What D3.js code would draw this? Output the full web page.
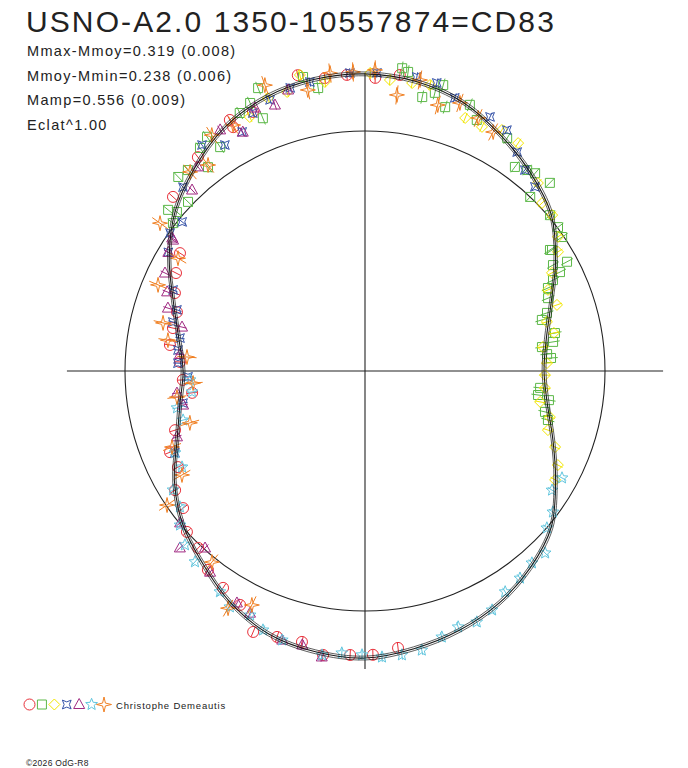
<!DOCTYPE html>
<html><head><meta charset="utf-8">
<script src="https://cdn.jsdelivr.net/npm/d3@7"></script>
<style>
body{margin:0;background:#fff}
svg{display:block}
text{font-family:"Liberation Sans",Arial,sans-serif}
</style>
</head><body>
<svg id="c" width="688" height="768"></svg>
<script>
// ---------- texts ----------
const titleText = "USNO-A2.0 1350-10557874=CD83";
const statLines = ["Mmax-Mmoy=0.319 (0.008)", "Mmoy-Mmin=0.238 (0.006)", "Mamp=0.556 (0.009)", "Eclat^1.00"];
const observerName = "Christophe Demeautis";
const copyrightText = "©2026 OdG-R8";

// ---------- fitted light curve (phase in degrees, relative flux; 1 = mean) ----------
const fitPhase = [0,10,20,30,40,50,60,70,80,90,100,110,120,130,140,150,160,170,180,190,200,210,220,230,240,250,260,270,280,290,300,310,320,330,340,350];
const fitFlux  = [1.238,1.225,1.192,1.133,1.075,1.013,0.917,0.825,0.767,0.746,0.771,0.833,0.917,1.013,1.071,1.117,1.150,1.175,1.196,1.188,1.167,1.117,1.050,0.992,0.917,0.833,0.783,0.758,0.788,0.850,0.942,1.033,1.104,1.171,1.213,1.233];
const fitSigma = 0.008;
const meanFlux = 1.0;
const axisExtent = 1.242;

// ---------- observations [phase deg, relative flux] ----------
const obsCircle = [[173.2,1.162],[178.4,1.183],[183.0,1.185],[188.4,1.196],[193.1,1.159],[198.3,1.167],[203.2,1.183],[208.1,1.105],[213.2,1.080],[218.3,1.056],[223.3,1.013],[227.9,1.000],[233.0,0.949],[237.9,0.934],[242.8,0.876],[247.4,0.880],[252.7,0.829],[262.8,0.726],[267.2,0.760],[272.8,0.772],[277.6,0.820],[282.6,0.820],[287.4,0.821],[292.3,0.856],[297.4,0.887],[302.5,0.914],[312.2,1.080],[322.0,1.131],[331.7,1.188],[331.6,1.155],[336.6,1.176],[347.2,1.264],[352.2,1.232],[356.5,1.236],[2.0,1.222],[6.7,1.242]];
const obsSquare = [[339.3,1.260],[336.8,1.215],[334.1,1.195],[338.0,1.136],[326.0,1.177],[327.1,1.111],[323.5,1.156],[322.4,1.072],[318.6,1.116],[316.1,1.122],[313.7,1.020],[309.3,1.060],[310.2,1.026],[307.6,1.010],[348.1,1.252],[350.6,1.195],[7.0,1.271],[8.2,1.259],[11.8,1.166],[14.1,1.195],[15.3,1.235],[16.9,1.149],[21.5,1.192],[24.0,1.145],[31.4,1.137],[36.3,1.055],[38.9,1.076],[40.7,1.087],[44.5,1.099],[43.5,1.000],[49.9,1.008],[53.3,1.003],[55.8,0.993],[57.1,0.928],[56.8,0.921],[61.6,0.957],[63.1,0.911],[60.6,0.899],[64.2,0.870],[65.6,0.837],[68.3,0.821],[72.3,0.796],[73.9,0.767],[78.7,0.807],[81.2,0.793],[82.3,0.744],[84.7,0.762],[86.0,0.777],[95.5,0.733],[97.9,0.728],[99.0,0.776],[102.8,0.769],[105.0,0.789]];
const obsDiamond = [[1.0,1.242],[4.9,1.217],[9.3,1.216],[12.8,1.222],[21.6,1.134],[25.6,1.128],[29.6,1.155],[33.9,1.144],[42.6,1.064],[46.5,1.017],[50.2,1.015],[55.2,0.979],[58.3,0.945],[62.3,0.880],[66.1,0.834],[71.0,0.846],[74.9,0.785],[78.6,0.803],[82.3,0.748],[87.5,0.759],[91.3,0.750],[95.4,0.753],[100.0,0.741],[104.0,0.794],[107.9,0.801],[111.8,0.853],[116.0,0.894],[119.8,0.913],[344.4,1.207],[340.4,1.207],[347.6,1.263],[352.1,1.216],[335.6,1.162]];
const obsCross = [[301.1,0.957],[305.3,0.995],[309.2,0.983],[315.3,1.078],[324.2,1.161],[328.2,1.108],[332.8,1.120],[336.5,1.172],[340.7,1.197],[345.2,1.220],[349.2,1.226],[357.1,1.243],[2.3,1.243],[10.0,1.244],[14.0,1.237],[18.2,1.198],[26.2,1.180],[30.5,1.165],[34.8,1.111],[38.5,1.070],[42.7,1.044],[292.9,0.868],[288.0,0.824],[284.3,0.826],[280.1,0.783],[276.4,0.784],[272.4,0.780],[268.1,0.738],[260.0,0.770],[246.7,0.862]];
const obsTriangle = [[304.6,0.976],[301.1,0.957],[296.1,0.928],[291.8,0.888],[287.7,0.862],[283.5,0.784],[275.1,0.774],[263.3,0.789],[259.4,0.771],[250.7,0.830],[304.3,0.968],[316.3,1.043],[320.7,1.099],[329.0,1.172],[332.9,1.118],[337.3,1.188],[341.3,1.170],[344.7,1.214],[230.6,0.997],[226.3,1.067],[222.1,0.994],[217.6,1.058],[208.9,1.104],[205.4,1.117],[197.1,1.173],[192.9,1.171],[188.6,1.205]];
const obsStar5 = [[118.5,0.934],[122.5,0.924],[126.9,0.979],[130.8,1.001],[135.3,1.067],[139.0,1.060],[143.2,1.078],[147.6,1.090],[152.0,1.128],[156.0,1.145],[160.0,1.135],[163.9,1.154],[168.5,1.187],[172.6,1.193],[176.6,1.194],[180.6,1.183],[184.7,1.179],[188.6,1.197],[197.1,1.173],[201.5,1.160],[205.2,1.124],[209.8,1.133],[213.3,1.101],[221.7,1.065],[226.0,1.043],[230.2,1.003],[233.7,0.957],[238.2,0.941],[242.3,0.861],[246.7,0.862],[258.9,0.798],[254.9,0.785],[263.1,0.726],[267.1,0.730]];
const obsStar4 = [[340.7,1.262],[348.5,1.195],[353.3,1.250],[357.7,1.247],[1.9,1.255],[331.8,1.163],[327.0,1.172],[322.7,1.079],[318.7,1.104],[305.8,1.053],[6.6,1.158],[10.7,1.234],[15.3,1.149],[19.5,1.185],[24.1,1.155],[28.2,1.130],[301.1,0.910],[292.6,0.934],[283.4,0.865],[278.9,0.831],[274.5,0.744],[266.0,0.718],[262.1,0.791],[253.5,0.761],[248.5,0.864],[240.4,0.877],[235.9,0.996],[218.7,1.020],[210.0,1.141],[205.8,1.083]];

const seriesShapes = ["circle","square","diamond","cross4","triangle","star5","star4"];
const seriesColors = ["#e8303a","#5cb848","#f2e600","#3552a8","#a02a82","#62c6de","#f07f22"];
const seriesErrors = [0.022,0.028,0.022,0.02,0.02,0.02,0.04];
const seriesData = [obsCircle,obsSquare,obsDiamond,obsCross,obsTriangle,obsStar5,obsStar4];

// ---------- drawing ----------
const svg = d3.select("#c");
svg.append("rect").attr("width",688).attr("height",768).attr("fill","#fff");
const cx = 365, cy = 371;
const rScale = d3.scaleLinear().domain([0, 1]).range([0, 240]);
const toRad = d => d * Math.PI / 180;
const px = (ph, f) => cx + rScale(f) * Math.sin(toRad(ph));
const py = (ph, f) => cy - rScale(f) * Math.cos(toRad(ph));

function starPath(n, ro, ri, rot) {
  const pts = [];
  for (let i = 0; i < 2 * n; i++) {
    const a = rot + i * Math.PI / n;
    const rr = i % 2 ? ri : ro;
    pts.push([rr * Math.sin(a), -rr * Math.cos(a)]);
  }
  return "M" + pts.map(p => p[0].toFixed(2) + "," + p[1].toFixed(2)).join("L") + "Z";
}
function shapePath(shape) {
  switch (shape) {
    case "circle": return d3.symbol(d3.symbolCircle, Math.PI * 5.5 * 5.5)();
    case "square": return "M-4.5,-4.5H4.5V4.5H-4.5Z";
    case "diamond": return "M0,-5.5L5.5,0L0,5.5L-5.5,0Z";
    case "cross4": return starPath(4, 6.2, 2.6, Math.PI / 4);
    case "triangle": return "M0,-6L5.5,4L-5.5,4Z";
    case "star5": return starPath(5, 6.2, 2.7, 0);
    case "star4": return starPath(4, 7.5, 2.0, 0);
  }
}

const g = svg.append("g");

// axes and mean-level circle
g.append("line").attr("x1", cx - rScale(axisExtent)).attr("x2", cx + rScale(axisExtent))
  .attr("y1", cy).attr("y2", cy).attr("stroke", "#222").attr("stroke-width", 1.1);
g.append("line").attr("x1", cx).attr("x2", cx)
  .attr("y1", cy - rScale(axisExtent)).attr("y2", cy + rScale(axisExtent)).attr("stroke", "#222").attr("stroke-width", 1.1);
g.append("circle").attr("cx", cx).attr("cy", cy).attr("r", rScale(meanFlux))
  .attr("fill", "none").attr("stroke", "#222").attr("stroke-width", 1.1);

// observations
seriesData.forEach((data, si) => {
  const col = seriesColors[si], e = seriesErrors[si], sp = shapePath(seriesShapes[si]);
  const sg = g.append("g").attr("stroke", col).attr("fill", "none").attr("stroke-width", 1);
  sg.selectAll("line").data(data).join("line")
    .attr("x1", d => px(d[0], d[1] - e)).attr("y1", d => py(d[0], d[1] - e))
    .attr("x2", d => px(d[0], d[1] + e)).attr("y2", d => py(d[0], d[1] + e));
  sg.selectAll("path").data(data).join("path")
    .attr("d", sp)
    .attr("transform", d => `translate(${px(d[0], d[1]).toFixed(2)},${py(d[0], d[1]).toFixed(2)})`);
});

// fitted curve with envelope
const fitData = fitPhase.map((p, i) => [p, fitFlux[i]]);
const radial = off => d3.lineRadial()
  .angle(d => toRad(d[0]))
  .radius(d => rScale(d[1] + off))
  .curve(d3.curveCatmullRomClosed);
const cg = g.append("g").attr("transform", `translate(${cx},${cy})`).attr("fill", "none").attr("stroke", "#1a1a1a");
cg.append("path").attr("d", radial(-fitSigma)(fitData)).attr("stroke-width", 0.7);
cg.append("path").attr("d", radial(fitSigma)(fitData)).attr("stroke-width", 0.7);
cg.append("path").attr("d", radial(0)(fitData)).attr("stroke-width", 1.1);

// texts
svg.append("text").attr("x", 26).attr("y", 32).attr("font-size", 30).attr("letter-spacing", 2.1)
  .attr("fill", "#222").text(titleText);
svg.selectAll("text.stat").data(statLines).join("text").attr("class", "stat")
  .attr("x", 27).attr("y", (d, i) => 56 + i * 24.7).attr("font-size", 14.5).attr("letter-spacing", 1.35)
  .attr("fill", "#222").text(d => d);

// legend
const lx = d3.scaleLinear().domain([0, seriesShapes.length - 1]).range([29.5, 104]);
const lg = svg.append("g").attr("fill", "none").attr("stroke-width", 1);
seriesShapes.forEach((s, i) => {
  lg.append("path").attr("d", shapePath(s)).attr("stroke", seriesColors[i])
    .attr("transform", `translate(${lx(i)},704.5)`);
});
svg.append("text").attr("x", 116).attr("y", 709).attr("font-size", 9.5).attr("letter-spacing", 0.8)
  .attr("fill", "#222").text(observerName);
svg.append("text").attr("x", 26).attr("y", 766).attr("font-size", 8.5).attr("letter-spacing", 0.3)
  .attr("fill", "#222").text(copyrightText);
</script>
</body></html>
